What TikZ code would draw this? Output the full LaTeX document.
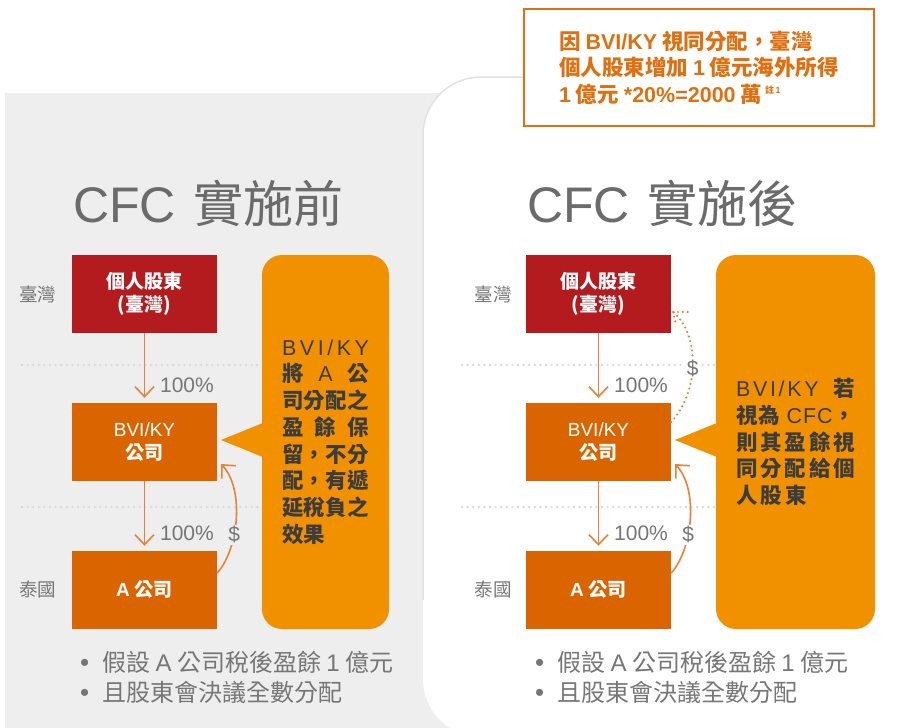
\documentclass[tikz,border=0pt]{standalone}
\usepackage{fontspec}
\setmainfont{Noto Sans CJK TC}
\newfontfamily\lat{Liberation Sans}
\usetikzlibrary{calc,arrows.meta}
\definecolor{panelgray}{HTML}{EEEEEE}
\definecolor{panelline}{HTML}{E2E2E2}
\definecolor{redbox}{HTML}{B31B1E}
\definecolor{orangebox}{HTML}{D96400}
\definecolor{bubblefill}{HTML}{F29100}
\definecolor{linkorange}{HTML}{E8823A}
\definecolor{noteorange}{HTML}{E0700F}
\definecolor{titlegray}{HTML}{6B6B6B}
\definecolor{labelgray}{HTML}{767676}
\definecolor{bubtext}{HTML}{3C3C3C}
\definecolor{dotgray}{HTML}{D9D9D9}

\begin{document}
\begin{tikzpicture}[x=1pt,y=-1pt,>={Straight Barb[length=10pt,width=19pt]},
	entity/.style={minimum width=145pt,minimum height=78pt,inner sep=0pt,text=white,align=center,
		font=\fontsize{19}{23.5}\selectfont\bfseries},
	bubblebox/.style={fill=bubblefill,rounded corners=20pt,minimum height=374pt,inner sep=0pt,
		text=bubtext,align=left,font=\fontsize{21.5}{26.7}\selectfont\bfseries},
	link/.style={draw=linkorange,line width=1.6pt},
	dotlink/.style={draw=linkorange,line width=2.4pt,dash pattern=on 0pt off 4.8pt,line cap=round},
	guide/.style={draw=dotgray,line width=2.6pt,dash pattern=on 0pt off 5.6pt,line cap=round},
	pct/.style={text=labelgray,font={\lat\fontsize{21}{21}\selectfont}},
	dollar/.style={text=labelgray,inner sep=1.5pt,font={\lat\fontsize{21}{21}\selectfont}},
	country/.style={text=labelgray,font=\fontsize{18.5}{18.5}\selectfont},
	title/.style={text=titlegray,anchor=base west,inner sep=0pt,font=\fontsize{50}{50}\selectfont},
	bullet/.style={text=labelgray,anchor=west,inner sep=0pt,font=\fontsize{24}{24}\selectfont}
	]

	\useasboundingbox (0,0) rectangle (900,728);

	% panels
	\fill[panelgray] (5,93) rectangle (460,728);
	\fill[white,rounded corners=58pt] (423,77) rectangle (990,737);
	\draw[panelline,line width=1.5pt,rounded corners=58pt] (423,600) -- (423,77) -- (523,77);

	\draw[guide] (22,365) -- (262,365);
	\draw[guide] (22,507) -- (262,507);
	\draw[guide] (462,365) -- (716,365);
	\draw[guide] (462,507) -- (716,507);

	\node[draw=noteorange,line width=2pt,fill=white,minimum width=350pt,minimum height=117pt,text=noteorange,align=left,
		font=\fontsize{21.5}{26.5}\selectfont\bfseries] (note) at (699,67.5)
		{因 {\lat BVI/KY} 視同分配，臺灣\\
		 個人股東增加 {\lat 1} 億元海外所得\\
		 {\lat 1} 億元 {\lat *20\%=2000} 萬\hspace{3pt}\raisebox{9pt}{\fontsize{9}{9}\selectfont 註{\lat\,1}}};

	% before
	\node[title] (tL) at (73,222) {{\lat CFC}\hspace{18pt}實施前};

	\node[country] (twL) at (38,294) {臺灣};
	\node[country] (thL) at (38,590) {泰國};

	\node[entity,fill=redbox] (indL) at (144.5,294) {個人股東\\(臺灣)};
	\node[entity,fill=orangebox] (bviL) at (144.5,442) {{\lat\mdseries BVI/KY}\\公司};
	\node[entity,fill=orangebox] (aL) at (144.5,590) {{\lat A}\hspace{5pt}公司};

	\draw[link,->,shorten >=5pt] (indL) -- (bviL);
	\draw[link,->,shorten >=5pt] (bviL) -- (aL);
	\node[pct] (pL1) at (187,385) {100\%};
	\node[pct] (pL2) at (187,533) {100\%};

	\draw[link,->] ([yshift=17pt]aL.east) .. controls +(21,-23) and +(24,26) .. ([xshift=4pt,yshift=-22pt]bviL.east)
		node[dollar,fill=panelgray,pos=0.38] (dL) {\$};

	\node[bubblebox,minimum width=127pt] (bubL) at (325.5,442)
		{\makebox[87pt][s]{\lat\mdseries B\hfill V\hfill I\hfill /\hfill K\hfill Y}\\
		 \makebox[87pt][s]{將\hfill {\lat\mdseries A}\hfill 公}\\
		 \makebox[87pt][s]{司\hfill 分\hfill 配\hfill 之}\\
		 \makebox[87pt][s]{盈\hfill 餘\hfill 保}\\
		 \makebox[87pt][s]{留\hfill ，\hfill 不\hfill 分}\\
		 \makebox[87pt][s]{配\hfill ，\hfill 有\hfill 遞}\\
		 \makebox[87pt][s]{延\hfill 稅\hfill 負\hfill 之}\\
		 \makebox[87pt][l]{效果}};
	\coordinate (tipL) at (221,440);
	\fill[bubblefill] ([xshift=1pt,yshift=19pt]bubL.west) -- (tipL) -- ([xshift=1pt,yshift=-15pt]bubL.west) -- cycle;

	\node[bullet] (bL1) at (80,662) {{\lat\fontsize{26}{24}\selectfont •}\hspace{13pt}假設 {\lat A} 公司稅後盈餘 {\lat 1} 億元};
	\node[bullet] (bL2) at (80,692) {{\lat\fontsize{26}{24}\selectfont •}\hspace{13pt}且股東會決議全數分配};

	% after
	\node[title] (tR) at (527,222) {{\lat CFC}\hspace{18pt}實施後};

	\node[country] (twR) at (493,294) {臺灣};
	\node[country] (thR) at (493,590) {泰國};

	\node[entity,fill=redbox] (indR) at (598.5,294) {個人股東\\(臺灣)};
	\node[entity,fill=orangebox] (bviR) at (598.5,442) {{\lat\mdseries BVI/KY}\\公司};
	\node[entity,fill=orangebox] (aR) at (598.5,590) {{\lat A}\hspace{5pt}公司};

	\draw[link,->,shorten >=5pt] (indR) -- (bviR);
	\draw[link,->,shorten >=5pt] (bviR) -- (aR);
	\node[pct] (pR1) at (641,385) {100\%};
	\node[pct] (pR2) at (641,533) {100\%};

	\draw[link,->] ([yshift=17pt]aR.east) .. controls +(21,-23) and +(24,26) .. ([xshift=4pt,yshift=-22pt]bviR.east)
		node[dollar,fill=white,pos=0.38] (dR) {\$};

	\coordinate (dtip) at ([xshift=2pt,yshift=-18pt]indR.east);
	\draw[dotlink] ([yshift=20pt]bviR.east) .. controls +(28,-30) and +(27,23) .. (dtip)
		node[dollar,fill=white,pos=0.47] (dS) {\$};
	\draw[dotlink] (dtip) -- ++(15,0);
	\draw[dotlink] (dtip) -- ++(3,14);

	\node[bubblebox,minimum width=159pt] (bubR) at (795.5,442)
		{\makebox[119pt][s]{{\lat\mdseries B\hfill V\hfill I\hfill /\hfill K\hfill Y}\hspace{12pt}\hfill 若}\\
		 \makebox[119pt][s]{視\hfill 為\hspace{6pt}\hfill {\lat\mdseries C\hfill F\hfill C}\hfill ，}\\
		 \makebox[119pt][s]{則\hfill 其\hfill 盈\hfill 餘\hfill 視}\\
		 \makebox[119pt][s]{同\hfill 分\hfill 配\hfill 給\hfill 個}\\
		 \makebox[119pt][l]{人\hspace{3pt}股\hspace{3pt}東}};
	\coordinate (tipR) at (675,440);
	\fill[bubblefill] ([xshift=1pt,yshift=19pt]bubR.west) -- (tipR) -- ([xshift=1pt,yshift=-15pt]bubR.west) -- cycle;

	\node[bullet] (bR1) at (535,662) {{\lat\fontsize{26}{24}\selectfont •}\hspace{13pt}假設 {\lat A} 公司稅後盈餘 {\lat 1} 億元};
	\node[bullet] (bR2) at (535,692) {{\lat\fontsize{26}{24}\selectfont •}\hspace{13pt}且股東會決議全數分配};

\end{tikzpicture}
\end{document}
